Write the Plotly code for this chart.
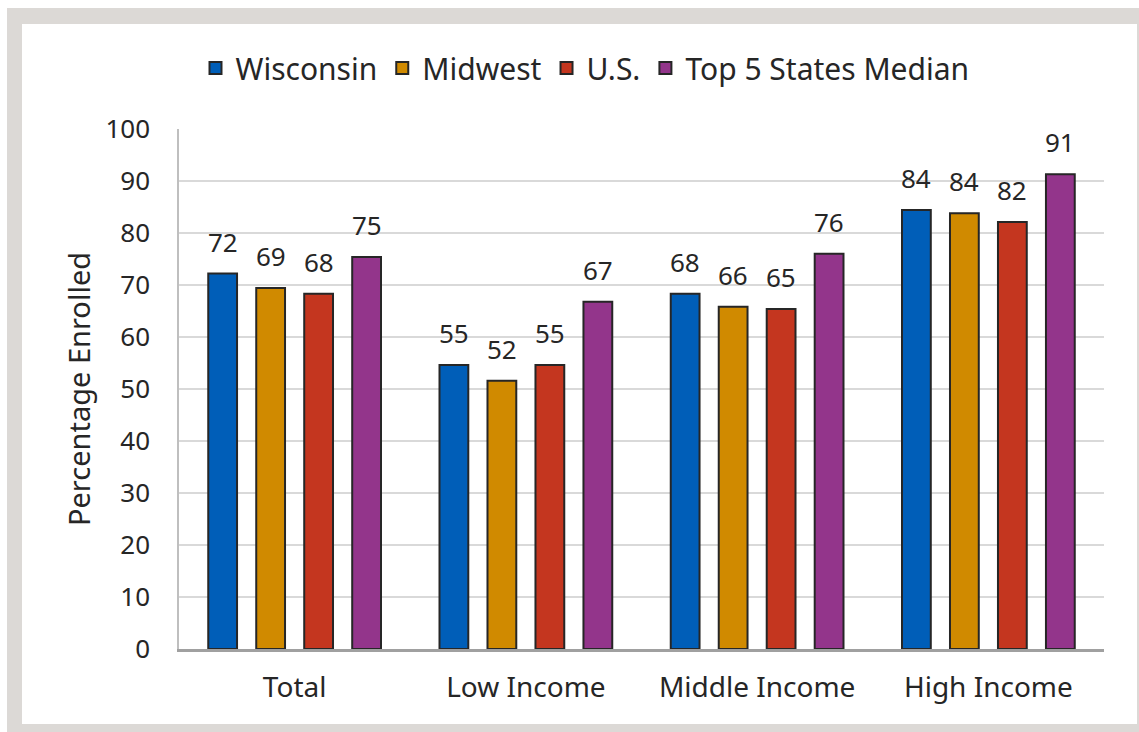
import plotly.graph_objects as go

categories = ["Total", "Low Income", "Middle Income", "High Income"]
series_names = ["Wisconsin", "Midwest", "U.S.", "Top 5 States Median"]
wisconsin = [72.2, 54.6, 68.3, 84.4]
midwest = [69.4, 51.6, 65.8, 83.8]
us = [68.3, 54.6, 65.4, 82.1]
top5 = [75.4, 66.8, 76.0, 91.3]
values = [wisconsin, midwest, us, top5]
colors = ["#005EB8", "#D08A00", "#C4361F", "#93358B"]
y_ticks = [0, 10, 20, 30, 40, 50, 60, 70, 80, 90, 100]

W, H = 1139, 732
ML, MR, MT, MB = 179, 35, 129, 83
PW, PH = W - ML - MR, H - MT - MB
BARGAP, GROUPGAP = 0.17, 0.4

def px(x):
    return (x - ML) / PW

def py(y):
    return (H - MB - y) / PH

FONT = "Noto Sans"
TXT = "#262626"

fig = go.Figure()
annotations = []
n = len(series_names)
for i, (name, vals, col) in enumerate(zip(series_names, values, colors)):
    fig.add_trace(go.Bar(
        x=categories, y=vals, name=name,
        marker=dict(color=col, line=dict(color="#262626", width=2)),
    ))
    slot = (1 - BARGAP) / n
    for j, v in enumerate(vals):
        annotations.append(dict(
            x=j + (i - (n - 1) / 2) * slot, y=v, xref="x", yref="y",
            text=f"{v:.0f}", showarrow=False, yanchor="bottom", yshift=12,
            font=dict(family=FONT, size=26, color=TXT),
        ))

fig.update_layout(
    width=W, height=H,
    margin=dict(l=ML, r=MR, t=MT, b=MB),
    paper_bgcolor="white", plot_bgcolor="white",
    barmode="group", bargap=BARGAP, bargroupgap=GROUPGAP,
    font=dict(family=FONT, size=26, color=TXT),
    legend=dict(orientation="h", x=px(585), y=py(68), xanchor="center", yanchor="middle",
                font=dict(family=FONT, size=30, color=TXT), itemwidth=30,
                bgcolor="rgba(0,0,0,0)"),
    showlegend=True,
    annotations=annotations,
    shapes=[
        dict(type="rect", xref="paper", yref="paper", x0=px(7), x1=px(1139), y0=py(732), y1=py(8),
             fillcolor="#DCD9D6", line=dict(width=0), layer="below"),
        dict(type="rect", xref="paper", yref="paper", x0=px(22), x1=px(1137), y0=py(724), y1=py(24),
             fillcolor="white", line=dict(width=0), layer="below"),
    ],
)
fig.update_yaxes(
    range=[0, 100], tickvals=y_ticks, showgrid=True, gridcolor="#D9D9D9", gridwidth=2,
    showline=True, linecolor="#BFBFBF", linewidth=1.5, zeroline=False,
    tickfont=dict(family=FONT, size=26, color=TXT), ticklabelstandoff=22,
    title=dict(text="Percentage Enrolled", font=dict(family=FONT, size=29, color=TXT), standoff=6),
)
fig.update_xaxes(
    showline=True, linecolor="#A0A0A0", linewidth=2.5, showgrid=False,
    tickfont=dict(family=FONT, size=28, color=TXT), ticklabelstandoff=12,
)

fig.write_html("out.html", config={"displayModeBar": False},
               post_script="document.body.style.margin='0px';")
